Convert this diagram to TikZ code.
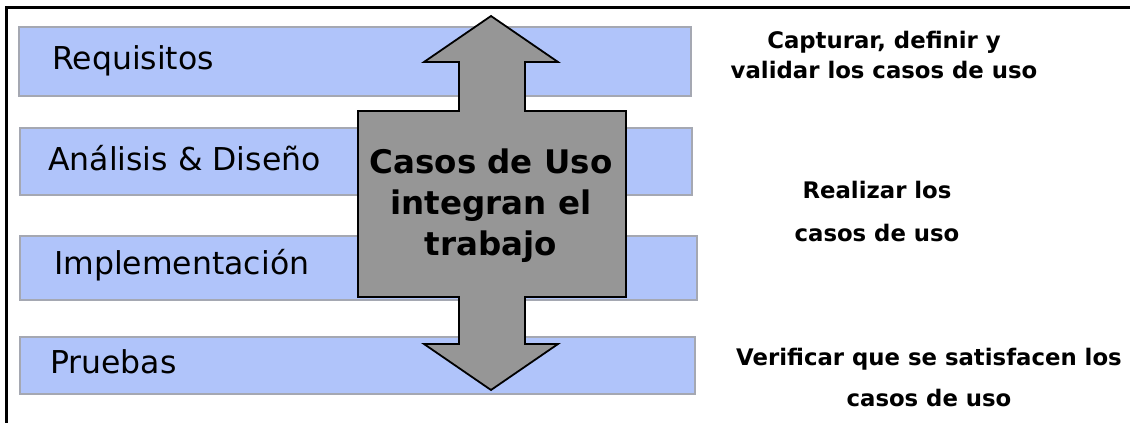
\documentclass[tikz,border=0pt]{standalone}
\usepackage{fontspec}
\setmainfont{DejaVu Sans}
\definecolor{barfill}{RGB}{176,196,250}
\definecolor{barline}{RGB}{165,168,178}
\definecolor{arrowgray}{RGB}{150,150,150}
\begin{document}
\begin{tikzpicture}[x=1pt,y=-1pt,
  bar/.style={draw=barline,line width=1.5pt,fill=barfill},
  phase/.style={anchor=west,inner sep=0pt,font=\fontsize{31.5}{36}\selectfont},
  note/.style={inner sep=0pt,align=center,font=\bfseries\fontsize{22.8}{30}\selectfont},
  frameline/.style={line width=3pt,black}]
\useasboundingbox (0,0) rectangle (1130,423);
% frame
\coordinate (tl) at (6,7);
\coordinate (tr) at (1130,7);
\coordinate (bl) at (6,423);
\draw[frameline] (tr) -- (tl) -- (bl);
% bars
\path[bar] (19,27) rectangle (691,96);
\path[bar] (20,128) rectangle (692,195);
\path[bar] (20,236) rectangle (697,300);
\path[bar] (20,337) rectangle (695,394);
% phase labels
\node[phase] (req) at (52,61) {Requisitos};
\node[phase] (ana) at (48,158) {Análisis \& Diseño};
\node[phase] (imp) at (54,265) {Implementación};
\node[phase] (pru) at (50,362) {Pruebas};
% big double arrow
\draw[fill=arrowgray,line width=1.8pt,line join=miter]
  (491,16) -- (558,62) -- (525,62) -- (525,111) -- (626,111) -- (626,297)
  -- (525,297) -- (525,344) -- (558,344) -- (491,390) -- (424,344)
  -- (459,344) -- (459,297) -- (358,297) -- (358,111) -- (459,111)
  -- (459,62) -- (424,62) -- cycle;
\node[inner sep=0pt,align=center,font=\bfseries\fontsize{32.5}{41}\selectfont] (cu) at (491,206)
  {Casos de Uso\\integran el\\trabajo};
% notes
\node[note] (n1) at (884,55) {Capturar, definir y\\validar los casos de uso};
\node[note,font=\bfseries\fontsize{22.8}{43}\selectfont] (n2) at (877,211) {Realizar los\\casos de uso};
\node[note,font=\bfseries\fontsize{22.8}{41}\selectfont] (n3) at (929,377) {Verificar que se satisfacen los\\casos de uso};
\end{tikzpicture}
\end{document}
